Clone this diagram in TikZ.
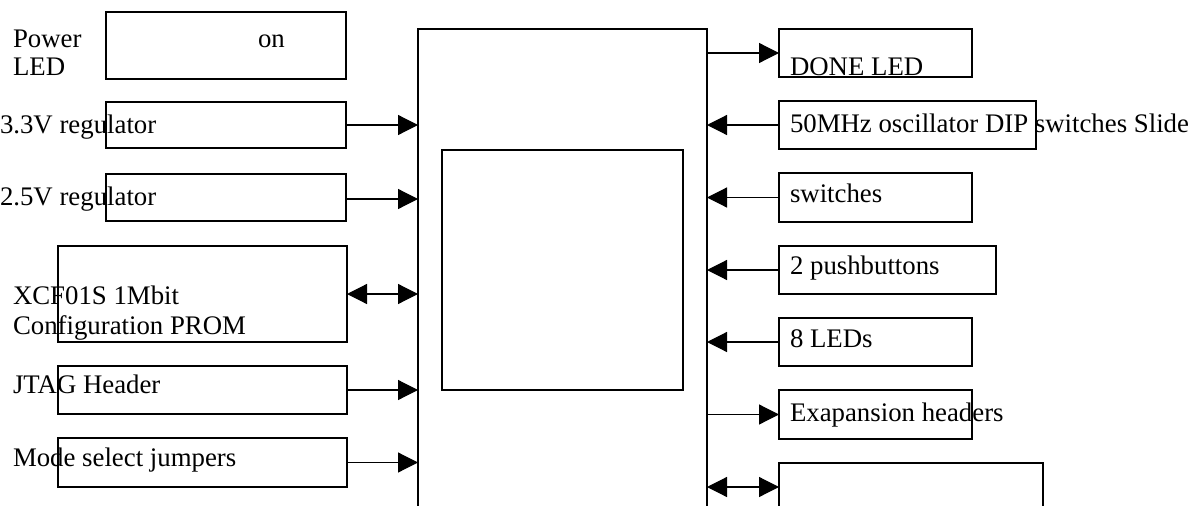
\documentclass[tikz,border=0pt]{standalone}
\usepackage{fontspec}
\setmainfont{Liberation Serif}
\usetikzlibrary{arrows.meta,calc}
\begin{document}
\begin{tikzpicture}[x=1pt,y=-1pt,
  box/.style={draw,line width=1.2pt,anchor=north west,inner sep=0pt,outer sep=0pt},
  lbl/.style={anchor=base west,inner sep=0pt,outer sep=0pt,font=\fontsize{26.8}{30}\selectfont},
  arr/.style={line width=1.2pt,-{Triangle[length=20pt,width=20pt]}},
  biarr/.style={line width=1.2pt,{Triangle[length=20pt,width=20pt]}-{Triangle[length=20pt,width=20pt]}}]
\useasboundingbox (0,0) rectangle (1192,506);
\clip (0,0) rectangle (1192,506);
% main block
\node[box,minimum width=289pt,minimum height=520pt] (fpga) at (418,29) {};
\node[box,minimum width=241pt,minimum height=240pt] (core) at (442,150) {};
% left boxes
\node[box,minimum width=240pt,minimum height=67pt] (pwr) at (106,12) {};
\node[box,minimum width=240pt,minimum height=46pt] (r33) at (106,102) {};
\node[box,minimum width=240pt,minimum height=47pt] (r25) at (106,174) {};
\node[box,minimum width=289pt,minimum height=96pt] (xcf) at (58,246) {};
\node[box,minimum width=289pt,minimum height=48pt] (jtag) at (58,366) {};
\node[box,minimum width=289pt,minimum height=49pt] (mode) at (58,438) {};
% right boxes
\node[box,minimum width=193pt,minimum height=48pt] (done) at (779,29) {};
\node[box,minimum width=257pt,minimum height=48pt] (osc) at (779,101) {};
\node[box,minimum width=193pt,minimum height=49pt] (sw) at (779,173) {};
\node[box,minimum width=217pt,minimum height=48pt] (pb) at (779,246) {};
\node[box,minimum width=193pt,minimum height=48pt] (led) at (779,318) {};
\node[box,minimum width=193pt,minimum height=49pt] (exp) at (779,390) {};
\node[box,minimum width=264pt,minimum height=60pt] (last) at (779,463) {};
% labels
\node[lbl] (tpower) at (13,47) {Power};
\node[lbl] (tled) at (13,75) {LED};
\node[lbl] (ton) at (258,47) {on};
\node[lbl] (t33) at (0,133) {3.3V regulator};
\node[lbl] (t25) at (0,205) {2.5V regulator};
\node[lbl] (txcf1) at (13,304) {XCF01S 1Mbit};
\node[lbl] (txcf2) at (13,334) {Configuration PROM};
\node[lbl] (tjtag) at (13,393) {JTAG Header};
\node[lbl] (tmode) at (13,466) {Mode select jumpers};
\node[lbl] (tdone) at (790,75) {DONE LED};
\node[lbl] (tosc) at (790,132) {50MHz oscillator DIP switches Slide};
\node[lbl] (tsw) at (790,202) {switches};
\node[lbl] (tpb) at (790,274) {2 pushbuttons};
\node[lbl] (tled8) at (790,347) {8 LEDs};
\node[lbl] (texp) at (790,421) {Exapansion headers};
% connectors left
\draw[arr] (r33.east) -- (r33.east -| fpga.west);
\draw[arr] ($(r25.east)+(0,1.5)$) -- ($(r25.east -| fpga.west)+(0,1.5)$);
\draw[biarr] (xcf.east) -- (xcf.east -| fpga.west);
\draw[arr] (jtag.east) -- (jtag.east -| fpga.west);
\draw[arr] (mode.east) -- (mode.east -| fpga.west);
% connectors right
\draw[arr] (done.west -| fpga.east) -- (done.west);
\draw[arr] (osc.west) -- (osc.west -| fpga.east);
\draw[arr] (sw.west) -- (sw.west -| fpga.east);
\draw[arr] (pb.west) -- (pb.west -| fpga.east);
\draw[arr] (led.west) -- (led.west -| fpga.east);
\draw[arr] (exp.west -| fpga.east) -- (exp.west);
\coordinate (lastin) at ($(last.north west)+(0,24)$);
\draw[biarr] (lastin -| fpga.east) -- (lastin);
\end{tikzpicture}
\end{document}
